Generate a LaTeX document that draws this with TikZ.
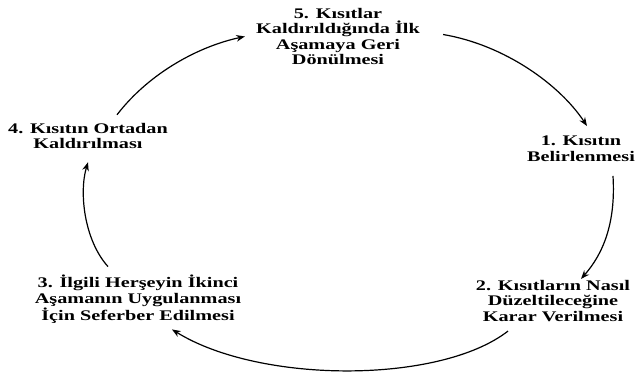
\documentclass[tikz,border=0pt]{standalone}
\usepackage{fontspec}
\setmainfont[FakeStretch=1.38]{Liberation Serif}
\usepackage{tikz}
\usetikzlibrary{arrows.meta, calc}

\tikzset{
  adim/.style={align=center, inner sep=0pt, font=\fontsize{11}{11.7}\selectfont\bfseries},
  ok/.style={->, line width=0.9pt}
}

\begin{document}
\begin{tikzpicture}[x=0.75pt, y=-0.75pt, >={Stealth[length=6.5pt, width=5pt]}]
    \useasboundingbox (0,0) rectangle (640,372);
    % cycle steps
    \node[adim] (s5) at (338,36.5) {5. Kısıtlar\\ Kaldırıldığında İlk\\ Aşamaya Geri\\ Dönülmesi};
    \node[adim] (s1) at (581,149) {1. Kısıtın\\ Belirlenmesi};
    \node[adim] (s2) at (553,301) {2. Kısıtların Nasıl\\ Düzeltileceğine\\ Karar Verilmesi};
    \node[adim] (s3) at (138,299) {3. İlgili Herşeyin İkinci\\ Aşamanın Uygulanması\\ İçin Seferber Edilmesi};
    \node[adim] (s4) at (88,136) {4. Kısıtın Ortadan\\ Kaldırılması};
    % arrows
    \draw[ok] ($(s5.east)+(23,-2)$) .. controls (505,45) and (560,85) .. ($(s1.north)+(6,-10)$);
    \draw[ok] ($(s1.south)+(32,14)$) .. controls (616,225) and (602,255) .. ($(s2.north)+(28,-1)$);
    \draw[ok] ($(s2.south)+(-45,9)$) .. controls (440,384) and (260,384) .. ($(s3.south)+(34,6)$);
    \draw[ok] ($(s3.north)+(-30,-8)$) .. controls (84,240) and (79,192) .. ($(s4.south)+(0,13)$);
    \draw[ok] ($(s4.north)+(29,-8)$) .. controls (150,72) and (200,46) .. ($(s5.west)+(-11,0)$);
\end{tikzpicture}
\end{document}
